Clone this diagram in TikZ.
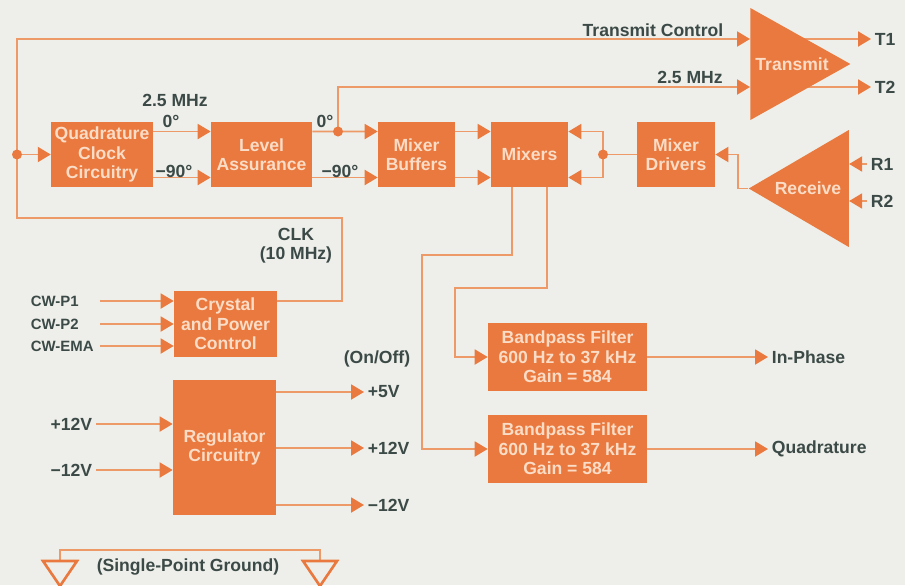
\documentclass[tikz,border=0pt]{standalone}
\usepackage{fontspec}
\setmainfont{Liberation Sans}
\usetikzlibrary{arrows.meta,positioning,shapes.geometric,calc}
\definecolor{boxor}{HTML}{E9793E}
\definecolor{wireor}{HTML}{EE9A68}
\definecolor{boxtxt}{HTML}{FBDCC6}
\definecolor{lbltxt}{HTML}{3C4A47}
\definecolor{paper}{HTML}{EEEFEA}
\pgfdeclarelayer{back}
\pgfdeclarelayer{wires}
\pgfsetlayers{back,wires,main}
\tikzset{
  obox/.style={fill=boxor,text=boxtxt,align=center,inner sep=2pt},
  otri/.style={isosceles triangle,isosceles triangle stretches,fill=boxor,text=boxtxt,inner sep=0pt},
  ognd/.style={isosceles triangle,isosceles triangle stretches,shape border rotate=270,draw=boxor,line width=1.5pt,inner sep=0pt,minimum width=0.68cm,minimum height=0.5cm},
  olbl/.style={text=lbltxt,inner sep=2pt},
  ocw/.style={olbl,anchor=west,text width=1.3cm,align=left,font=\fontsize{8.5}{10}\selectfont\bfseries},
  owire/.style={draw=wireor,line width=1.1pt},
  oarr/.style={owire,-{Triangle[length=2.6mm,width=3mm,color=boxor]}},
  odot/.style={fill=boxor}
}

\begin{document}
\begin{tikzpicture}[x=0.02cm,y=-0.02cm,font=\fontsize{10}{11}\selectfont\bfseries]
  \begin{pgfonlayer}{back}
    \fill[paper] (0,0) rectangle (905,585);
  \end{pgfonlayer}
  \useasboundingbox (0,0) rectangle (905,585);
  % blocks
  \node[obox,minimum width=2cm,minimum height=1.3cm] (quad) at (102,154.5) {Quadrature\\Clock\\Circuitry};
  \node[obox,minimum width=2.02cm,minimum height=1.3cm] (level) at (261.5,154.5) {Level\\Assurance};
  \node[obox,minimum width=1.54cm,minimum height=1.3cm] (buf) at (416.5,154.5) {Mixer\\Buffers};
  \node[obox,minimum width=1.54cm,minimum height=1.3cm] (mix) at (529.5,154.5) {Mixers};
  \node[obox,minimum width=1.56cm,minimum height=1.3cm] (drv) at (676,154.5) {Mixer\\Drivers};
  \node[otri,minimum width=2.24cm,minimum height=2cm] (xmit) at (792,64) {Transmit};
  \node[otri,shape border rotate=180,minimum width=2.34cm,minimum height=2cm] (recv) at (808,188.5) {Receive};
  \node[obox,minimum width=2.06cm,minimum height=1.32cm] (crys) at (225.5,324) {Crystal\\and Power\\Control};
  \node[obox,minimum width=2.06cm,minimum height=2.7cm] (reg) at (224.5,447.5) {Regulator\\Circuitry};
  \node[obox,minimum width=3.18cm,minimum height=1.36cm] (filti) at (567.5,357) {Bandpass Filter\\600 Hz to 37 kHz\\Gain = 584};
  \node[obox,minimum width=3.18cm,minimum height=1.36cm] (filtq) at (567.5,449) {Bandpass Filter\\600 Hz to 37 kHz\\Gain = 584};
  \node[ognd] (gnda) at (60,570) {};
  \node[ognd] (gndb) at (320,570) {};
  % labels
  \node[olbl] (ltc) at (653,30) {Transmit Control};
  \node[olbl] (lfa) at (175,100) {2.5 MHz};
  \node[olbl] (lza) at (171,121) {0°};
  \node[olbl] (lna) at (174,171) {−90°};
  \node[olbl] (lzb) at (325,121) {0°};
  \node[olbl] (lnb) at (340,171) {−90°};
  \node[olbl] (lfb) at (690,77) {2.5 MHz};
  \node[olbl,anchor=west] (lta) at (871,39) {T1};
  \node[olbl,anchor=west] (ltb) at (871,87) {T2};
  \node[olbl,anchor=west] (lra) at (867,164) {R1};
  \node[olbl,anchor=west] (lrb) at (867,201) {R2};
  \node[olbl,align=center] (lclk) at (296,246) {CLK\\(10 MHz)};
  \node[ocw] (lcwa) at (27,301) {CW-P1};
  \node[ocw] (lcwb) at (27,324) {CW-P2};
  \node[ocw] (lcwc) at (27,346) {CW-EMA};
  \node[olbl,anchor=east] (lpin) at (96,424) {+12V};
  \node[olbl,anchor=east] (lmin) at (96,470) {−12V};
  \node[olbl] (lonoff) at (377,359) {(On/Off)};
  \node[olbl,anchor=west] (lpfive) at (364,392) {+5V};
  \node[olbl,anchor=west] (lpout) at (364,448) {+12V};
  \node[olbl,anchor=west] (lmout) at (364,505) {−12V};
  \node[olbl,anchor=west] (linph) at (768,357) {In-Phase};
  \node[olbl,anchor=west] (lquad) at (768,449) {Quadrature};
  \node[olbl] (lgnd) at (188,567) {(Single-Point Ground)};
  \coordinate (cdot) at (17,154.5);
  \coordinate (ldot) at (338,131.5);
  \coordinate (mdot) at (603,154.5);
  % connections
  \begin{pgfonlayer}{wires}
    \draw[oarr] (crys.east |- lcwa) -| (342,218) -| (17,39) -- (xmit.west |- lta);
    \draw[oarr] (cdot) -- (quad);
    \draw[oarr] ([yshift=.46cm]quad.east) -- ([yshift=.46cm]level.west);
    \draw[oarr] ([yshift=-.46cm]quad.east) -- ([yshift=-.46cm]level.west);
    \draw[owire] ([yshift=.46cm]level.east) -- (ldot);
    \draw[oarr] (ldot) -- ([yshift=.46cm]buf.west);
    \draw[oarr] (ldot) |- (xmit.west |- ltb);
    \draw[oarr] ([yshift=-.46cm]level.east) -- ([yshift=-.46cm]buf.west);
    \draw[oarr] ([yshift=.46cm]buf.east) -- ([yshift=.46cm]mix.west);
    \draw[oarr] ([yshift=-.46cm]buf.east) -- ([yshift=-.46cm]mix.west);
    \draw[owire] (drv) -- (mdot);
    \draw[oarr] (mdot) |- ([yshift=.46cm]mix.east);
    \draw[oarr] (mdot) |- ([yshift=-.46cm]mix.east);
    \draw[oarr] (recv.apex) -- ++(-10,0) |- (drv);
    \draw[oarr] (xmit.center |- lta) -- (lta);
    \draw[oarr] (xmit.center |- ltb) -- (ltb);
    \draw[oarr] (lra) -- (recv.east |- lra);
    \draw[oarr] (lrb) -- (recv.east |- lrb);
    \draw[oarr] ([xshift=-.35cm]mix.south) |- (422,255) |- (filtq);
    \draw[oarr] ([xshift=.35cm]mix.south) |- (455,288) |- (filti);
    \draw[oarr] (filti) -- (linph);
    \draw[oarr] (filtq) -- (lquad);
    \draw[oarr] (lcwa) -- (crys.west |- lcwa);
    \draw[oarr] (lcwb) -- (crys.west |- lcwb);
    \draw[oarr] (lcwc) -- (crys.west |- lcwc);
    \draw[oarr] (lpin) -- (reg.west |- lpin);
    \draw[oarr] (lmin) -- (reg.west |- lmin);
    \draw[oarr] (reg.east |- lpfive) -- (lpfive);
    \draw[oarr] (reg.east |- lpout) -- (lpout);
    \draw[oarr] (reg.east |- lmout) -- (lmout);
    \draw[owire] (gnda.north) -- ++(0,-10) -| (gndb.north);
  \end{pgfonlayer}
  \fill[odot] (cdot) circle[radius=0.1cm];
  \fill[odot] (ldot) circle[radius=0.1cm];
  \fill[odot] (mdot) circle[radius=0.1cm];
\end{tikzpicture}
\end{document}
